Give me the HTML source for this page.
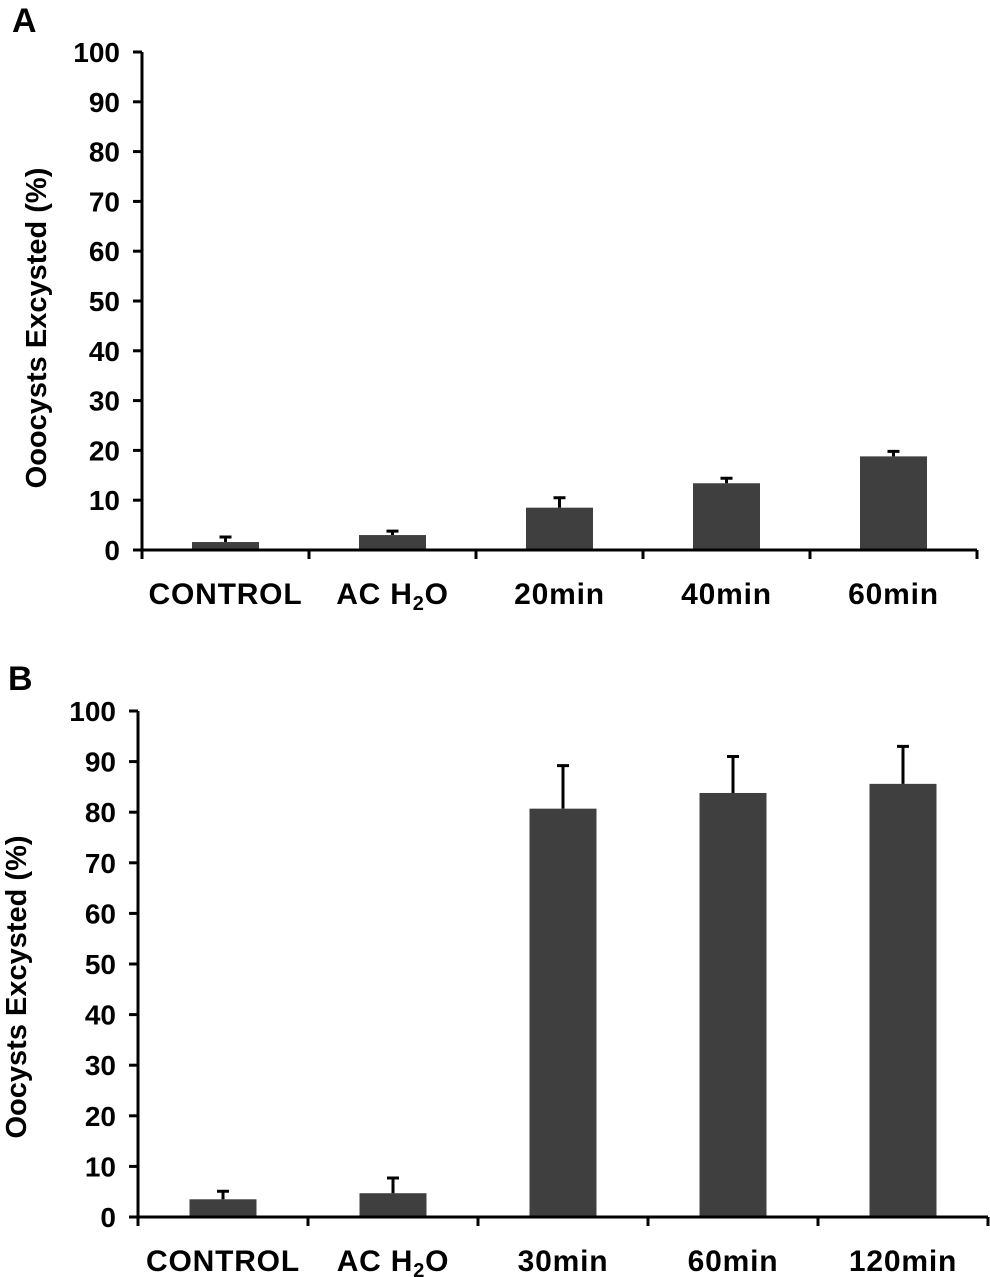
<!DOCTYPE html>
<html><head><meta charset="utf-8"><style>
html,body{margin:0;padding:0;background:#fff;}
svg{display:block;font-family:"Liberation Sans",Arial,sans-serif;font-weight:bold;}
</style></head><body>
<svg id="chart" width="990" height="1277" viewBox="0 0 990 1277" xmlns="http://www.w3.org/2000/svg">
<text x="12" y="32" font-size="34">A</text>
<text x="8" y="690" font-size="34">B</text>
<g id="pa"></g>
<g id="pb"></g>
</svg>
<script>
const catsA = ["CONTROL","AC H2O","20min","40min","60min"];
const valsA = [1.6, 3.0, 8.5, 13.4, 18.8];
const errA = [2.6, 3.8, 10.5, 14.4, 19.8];
const catsB = ["CONTROL","AC H2O","30min","60min","120min"];
const valsB = [3.5, 4.7, 80.7, 83.8, 85.6];
const errB = [5.1, 7.7, 89.2, 91.0, 93.0];
const yTicks = [0,10,20,30,40,50,60,70,80,90,100];
const NS="http://www.w3.org/2000/svg";
function mk(p,tag,a){const e=document.createElementNS(NS,tag);for(const k in a)e.setAttribute(k,a[k]);p.appendChild(e);return e;}
function draw(g,cats,vals,errs,cfg,pfx){
  const y=v=>cfg.y0-(cfg.y0-cfg.y100)*v/100;
  const cw=(cfg.xr-cfg.x0)/cats.length;
  const x=i=>cfg.x0+cw*(i+0.5);
  const cy=cfg.titleY;
  const yl=mk(g,'text',{x:cfg.titleX,y:cy,'font-size':cfg.titleSize,'text-anchor':'middle',transform:`rotate(-90 ${cfg.titleX} ${cy})`});
  yl.textContent=cfg.title;
  
  
  yTicks.forEach(t=>{
    const l=mk(g,'line',{x1:cfg.x0-9,x2:cfg.x0,y1:y(t),y2:y(t),stroke:'#000','stroke-width':3});
    
    
    const tx=mk(g,'text',{x:cfg.x0-22,y:y(t)+10,'font-size':28,'text-anchor':'end'});
    tx.textContent=t;
    
    
  });
  cats.forEach((c,i)=>{
    const bw=67;
    const b=mk(g,'rect',{x:x(i)-bw/2,y:y(vals[i]),width:bw,height:y(0)-y(vals[i]),fill:'#3f3f3f'});
    
    
    const e=mk(g,'path',{d:`M${x(i)} ${y(vals[i])}V${y(errs[i])}M${x(i)-6} ${y(errs[i])}H${x(i)+6}`,stroke:'#000','stroke-width':3,fill:'none'});
    
    
    const tk=mk(g,'line',{x1:cfg.x0+cw*(i+1),x2:cfg.x0+cw*(i+1),y1:y(0),y2:y(0)+9,stroke:'#000','stroke-width':3});
    
    
    const t=mk(g,'text',{x:x(i),y:y(0)+54,'font-size':30,'text-anchor':'middle','letter-spacing':'0.8'});
    if(c==="AC H2O"){t.innerHTML='AC H<tspan font-size="20" dy="6">2</tspan><tspan dy="-6">O</tspan>';}
    else t.textContent=c;
    
    
  });
  const ax=mk(g,'path',{d:`M${cfg.x0} ${cfg.y100}V${y(0)}H${cfg.xr}M${cfg.x0} ${y(0)}v9`,stroke:'#000','stroke-width':3,fill:'none'});
  
  
}
draw(document.getElementById('pa'),catsA,valsA,errA,{x0:142,xr:977,y0:550,y100:52,titleX:46,titleY:328,titleSize:29,title:"Ooocysts Excysted (%)"},'a');
draw(document.getElementById('pb'),catsB,valsB,errB,{x0:138,xr:988,y0:1217,y100:711,titleX:26,titleY:987,titleSize:29,title:"Oocysts Excysted (%)"},'b');
</script>
</body></html>
